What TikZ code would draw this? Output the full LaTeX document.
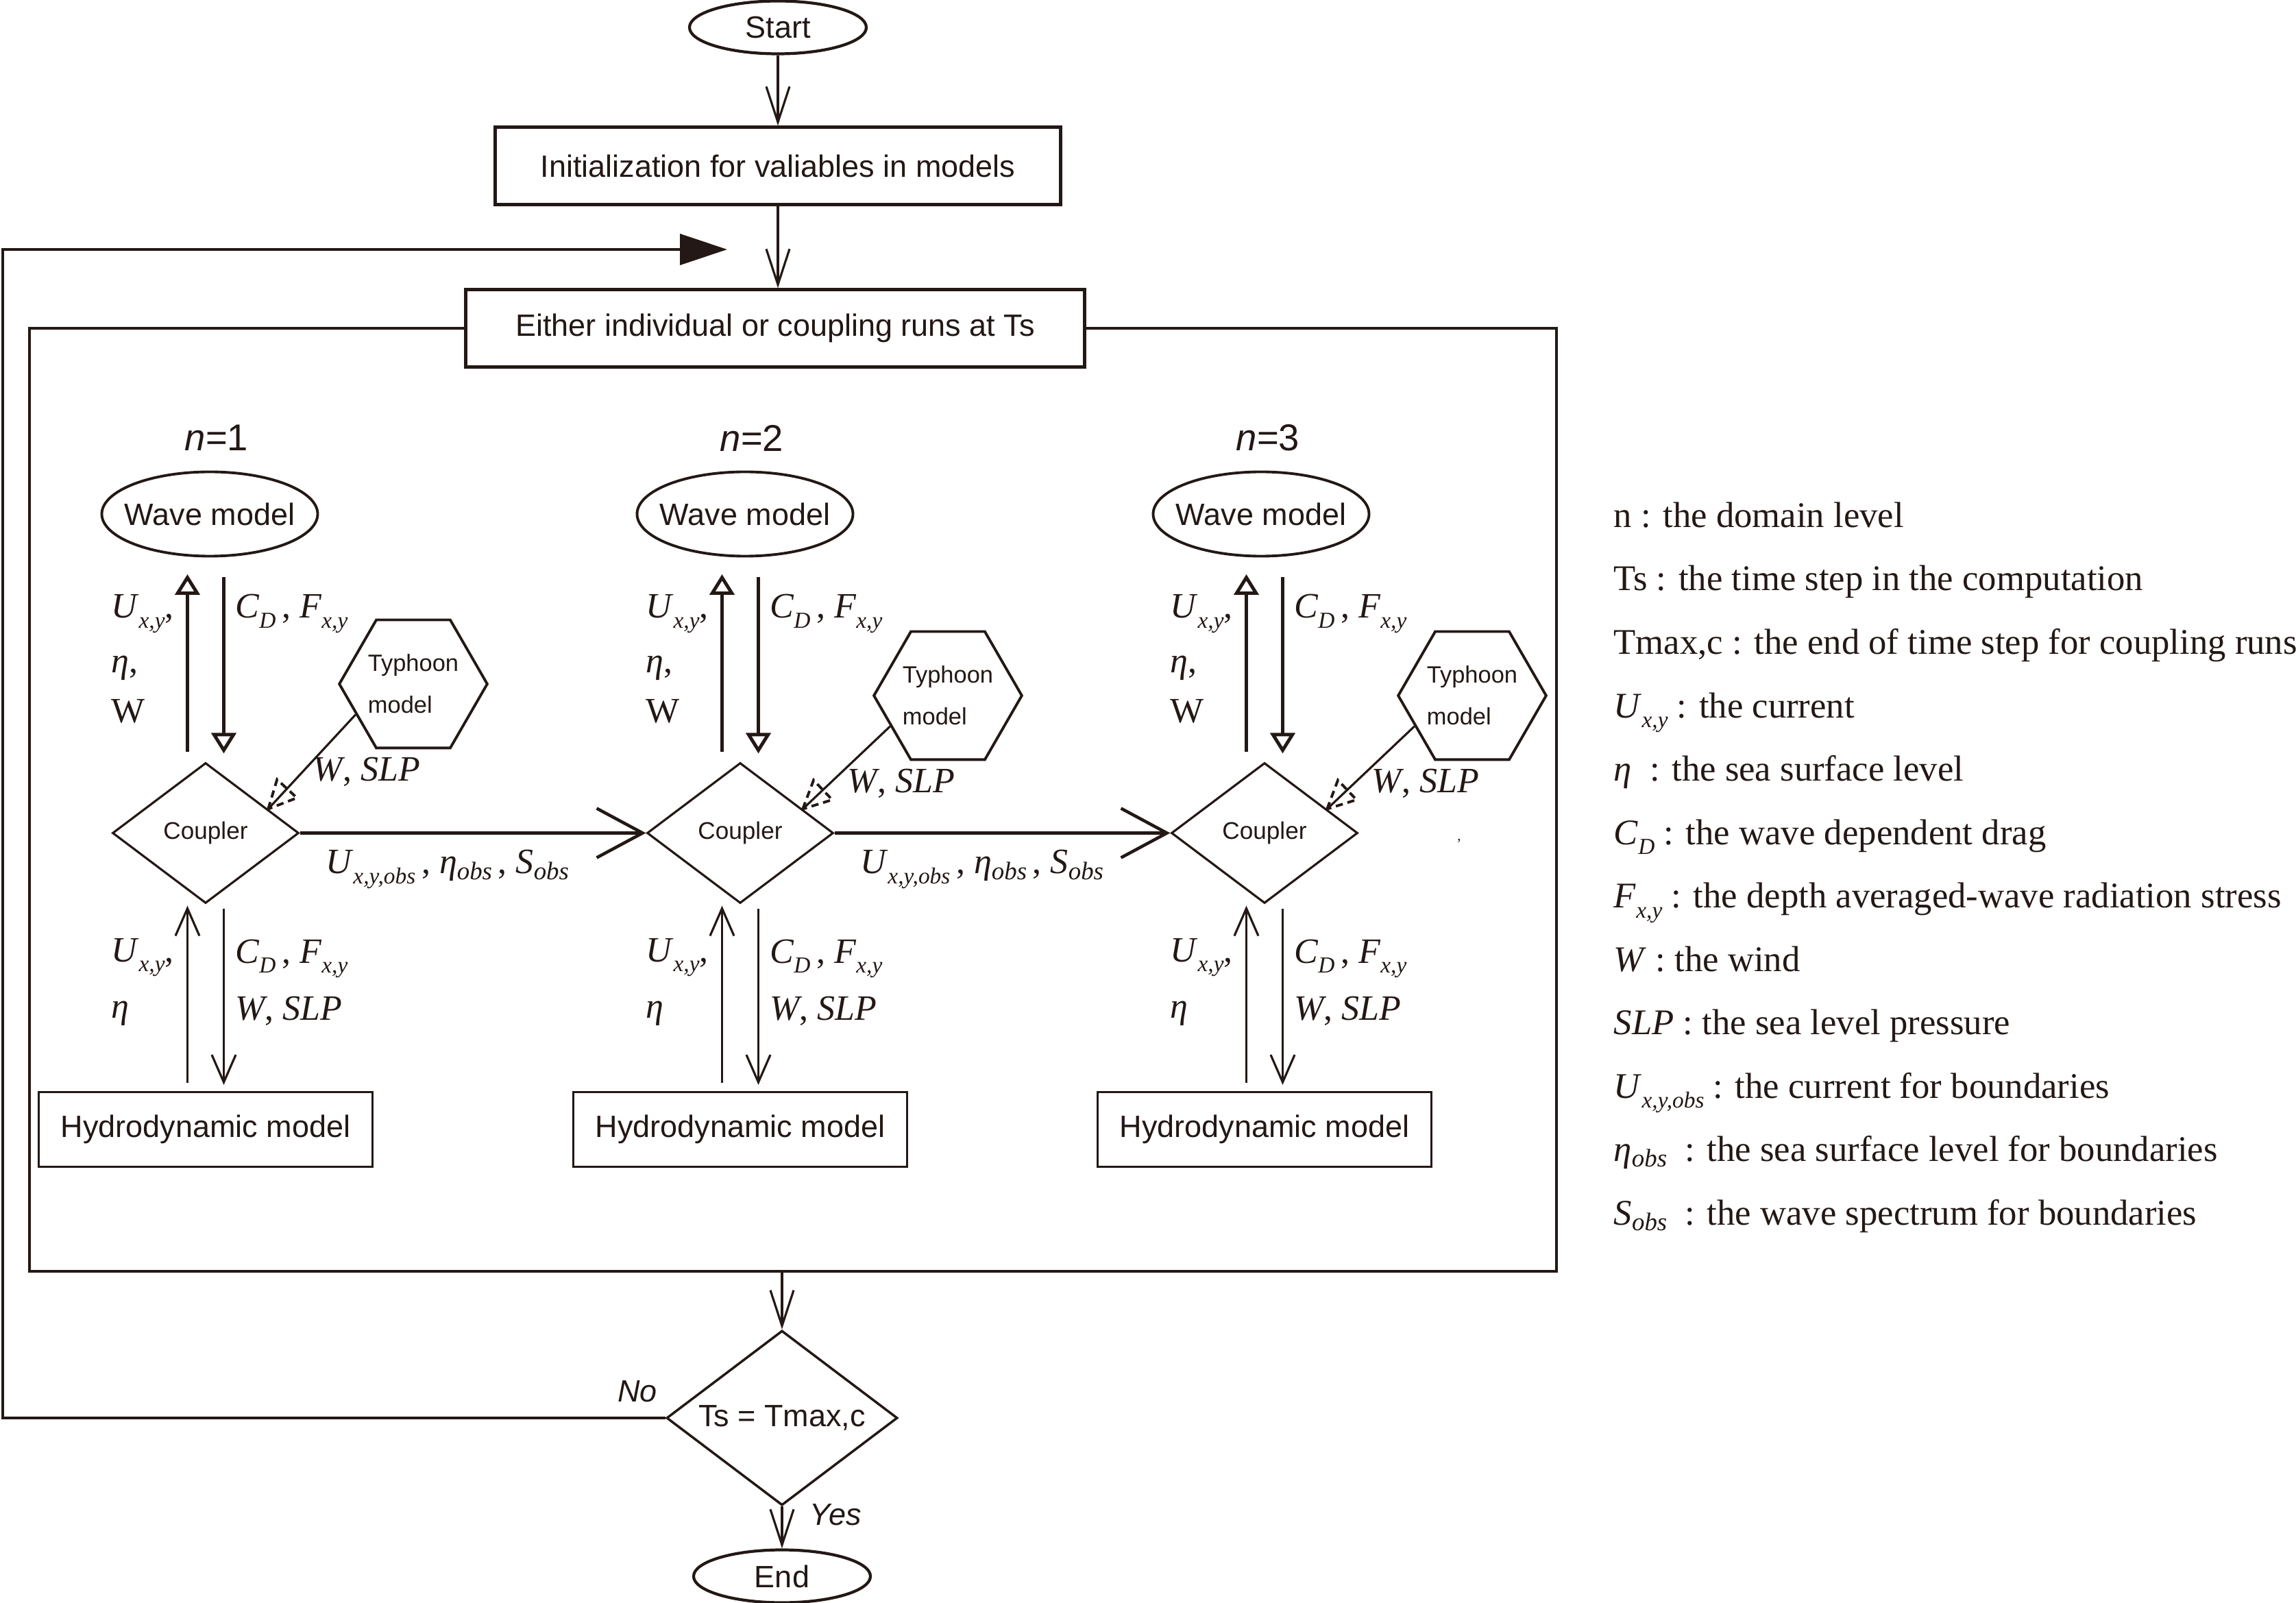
\documentclass[tikz,border=0pt]{standalone}
\usepackage{fontspec}
\setmainfont{Liberation Serif}
\newfontfamily\arialfont{Liberation Sans}
\usetikzlibrary{shapes.geometric, arrows.meta, calc}

\definecolor{ink}{RGB}{35,24,21}

% Subscripts, set low and small as printed.
\newcommand{\lsub}[1]{\raisebox{-0.6ex}{\fontsize{9.5}{9.5}\selectfont\itshape #1}}
\newcommand{\osub}[1]{\raisebox{-0.35ex}{\fontsize{10.5}{10.5}\selectfont\itshape #1}}

\tikzset{
    sans/.style={font=\arialfont\fontsize{12.8}{15}\selectfont},
    terminal/.style={draw, ellipse, line width=1.2pt, sans, inner sep=0pt,
        minimum width=2.58cm, minimum height=0.77cm},
    process/.style={draw, rectangle, line width=1.2pt, sans, inner sep=0pt,
        minimum height=1.13cm},
    wavebox/.style={draw, ellipse, line width=1.1pt, sans, inner sep=0pt,
        minimum width=3.15cm, minimum height=1.23cm},
    hydrobox/.style={draw, rectangle, line width=1.1pt, sans, inner sep=0pt,
        minimum width=4.87cm, minimum height=1.09cm},
    coupler/.style={draw, diamond, aspect=1.33, line width=0.9pt, inner sep=0pt,
        minimum width=2.72cm, minimum height=2.05cm,
        font=\arialfont\fontsize{10}{12}\selectfont},
    decision/.style={draw, diamond, aspect=1.32, line width=1pt, sans, inner sep=0pt,
        minimum width=3.37cm, minimum height=2.55cm},
    typhoon/.style={draw, regular polygon, regular polygon sides=6, line width=1.1pt,
        inner sep=0pt, minimum size=2.07cm, align=left,
        font=\arialfont\fontsize{9.8}{17.4}\selectfont},
    nlabel/.style={font=\arialfont\fontsize{15.5}{18}\selectfont, inner sep=0pt},
    lbl/.style={font=\fontsize{14.8}{17}\selectfont, inner sep=0pt, anchor=base west},
    legend/.style={font=\fontsize{15}{18}\selectfont, inner sep=0pt, anchor=base west},
    flowarrow/.style={line width=0.9pt, -{Straight Barb[length=0.52cm, width=0.34cm]}},
    looparrow/.style={line width=1.2pt, -{Triangle[length=0.69cm, width=0.45cm]}},
    uparrow/.style={line width=1.4pt, -{Triangle[open, length=0.3cm, width=0.36cm]}},
    downarrow/.style={line width=0.9pt, -{Straight Barb[length=0.4cm, width=0.35cm]}},
    passarrow/.style={line width=1.3pt, -{Straight Barb[length=0.67cm, width=0.72cm]}},
    typharrow/.style={line width=0.9pt},
    typhtip/.style={line width=1.1pt, dash pattern=on 3pt off 2pt},
    framebox/.style={line width=1.2pt},
}

\begin{document}
\begin{tikzpicture}[color=ink]
\useasboundingbox (0,0) rectangle (33.5,-23.39);

% Main flow.
\node[terminal] (start) at (11.35,-0.40) {Start};
\node[process, minimum width=8.25cm] (init) at (11.35,-2.42)
    {Initialization for valiables in models};
\node[process, minimum width=9.03cm] (either) at (11.31,-4.79)
    {Either individual or coupling runs at Ts};
\draw[flowarrow] (start) -- (init);
\draw[flowarrow] (init.south) -- (init.south |- either.north);

% Draw the frame round the coupled runs.
\coordinate (fbl) at (0.43,-18.55);
\coordinate (fbr) at (22.71,-18.55);
\coordinate (fout) at (11.41,-18.55);
\draw[framebox] (either.west) -| (fbl) -- (fbr) |- (either.east);

% Draw the three domain levels.
\foreach \i/\cx/\wx/\ty in {1/3.00/3.06/9.98, 2/10.80/10.87/10.15, 3/18.45/18.40/10.15}
{
    \node[wavebox] (wave\i) at (\wx,-7.50) {\makebox[0pt]{Wave model}};
    \node[nlabel] (nlab\i) at ([xshift=1.0mm, yshift=11.1mm]wave\i.center) {\textit{n}=\i};
    \node[coupler] (cpl\i) at (\cx,-12.155) {Coupler};
    \node[hydrobox] (hydro\i) at (\cx,-16.48) {Hydrodynamic model};
    \node[typhoon] (typh\i) at (\cx+3.03,-\ty) {Typhoon\\model};
    \coordinate (wfoot\i) at (cpl\i.north |- wave\i.south);

    \draw[uparrow] ([xshift=-2.65mm, yshift=1.4mm]cpl\i.north)
        -- ([xshift=-2.65mm, yshift=-2.45mm]wfoot\i);
    \draw[uparrow] ([xshift=2.65mm, yshift=-2.85mm]wfoot\i)
        -- ([xshift=2.65mm, yshift=1.2mm]cpl\i.north);
    \draw[downarrow] ([xshift=-2.65mm, yshift=1.15mm]hydro\i.north)
        -- ([xshift=-2.65mm, yshift=-0.2mm]cpl\i.south);
    \draw[downarrow] ([xshift=2.65mm, yshift=-0.6mm]cpl\i.south)
        -- ([xshift=2.65mm, yshift=0.85mm]hydro\i.north);

    \node[lbl] (ua\i) at (\cx-1.385,-9.02) {\textit{U}\lsub{x,y},};
    \node[lbl] (ea\i) at (\cx-1.385,-9.82) {\textit{η},};
    \node[lbl] (wa\i) at (\cx-1.385,-10.55) {W};
    \node[lbl] (ca\i) at (\cx+0.425,-9.02) {\textit{C}\lsub{D}\,, \textit{F}\lsub{x,y}};
    \node[lbl] (ub\i) at (\cx-1.385,-14.03) {\textit{U}\lsub{x,y},};
    \node[lbl] (eb\i) at (\cx-1.385,-14.85) {\textit{η}};
    \node[lbl] (cb\i) at (\cx+0.425,-14.05) {\textit{C}\lsub{D}\,, \textit{F}\lsub{x,y}};
    \node[lbl] (wb\i) at (\cx+0.425,-14.88) {\textit{W}, \textit{SLP}};

    % Typhoon forcing, with its dashed head.
    \draw[typharrow] (typh\i.208) -- (cpl\i.21);
    \draw[typhtip] (cpl\i.21) -- ($(cpl\i.21)!0.45cm!26:(typh\i.208)$)
        -- ($(cpl\i.21)!0.45cm!-26:(typh\i.208)$) -- cycle;
    \node[lbl, anchor=center] (ws\i) at ([xshift=-6.8mm, yshift=-12.8mm]typh\i.center)
        {\textit{W}, \textit{SLP}};
}

% Boundaries passed from one level to the next.
\draw[passarrow] (cpl1.east) -- (cpl2.west);
\draw[passarrow] (cpl2.east) -- (cpl3.west);
\node[lbl, anchor=center] (obs1) at ($(cpl1.east)+(2.15,-0.53)$)
    {\textit{U}\lsub{x,y,obs}\,, \textit{η}\osub{obs}\,, \textit{S}\osub{obs}};
\node[lbl, anchor=center] (obs2) at ($(cpl2.east)+(2.15,-0.53)$)
    {\textit{U}\lsub{x,y,obs}\,, \textit{η}\osub{obs}\,, \textit{S}\osub{obs}};
\node[font=\fontsize{6}{6}\selectfont, inner sep=0pt] (stray) at (21.29,-12.27) {,};

% Check the time step.
\node[decision] (check) at (11.41,-20.69) {Ts = Tmax,c};
\node[terminal] (stop) at (11.41,-23.00) {End};
\draw[flowarrow] (fout) -- (check);
\draw[flowarrow] (check) -- (stop);
\node[sans, font=\arialfont\itshape\fontsize{12.8}{15}\selectfont] (nolab) at (9.30,-20.30) {No};
\node[sans, font=\arialfont\itshape\fontsize{12.8}{15}\selectfont] (yeslab) at (12.19,-22.10) {Yes};

% Loop back.
\coordinate (loopcorner) at (0.04,-3.64);
\coordinate (loopin) at (10.61,-3.64);
\draw[looparrow] (check.west) -| (loopcorner) -- (loopin);

% Draw the legend.
\foreach \k/\entry in {0/{n : the domain level},
    1/{Ts : the time step in the computation},
    2/{Tmax,c : the end of time step for coupling runs},
    3/{\textit{U}\lsub{x,y} : the current},
    4/{\textit{η}\ \ : the sea surface level},
    5/{\textit{C}\lsub{D} : the wave dependent drag},
    6/{\textit{F}\lsub{x,y}\ : the depth averaged-wave radiation stress},
    7/{\textit{W}\ : the wind},
    8/{\textit{SLP} : the sea level pressure},
    9/{\textit{U}\lsub{x,y,obs} : the current for boundaries},
    10/{\textit{η}\osub{obs}\ \ : the sea surface level for boundaries},
    11/{\textit{S}\osub{obs}\ \ : the wave spectrum for boundaries}}
    \node[legend] (key\k) at (23.54,-7.695-0.925*\k) {\entry};

\end{tikzpicture}
\end{document}
